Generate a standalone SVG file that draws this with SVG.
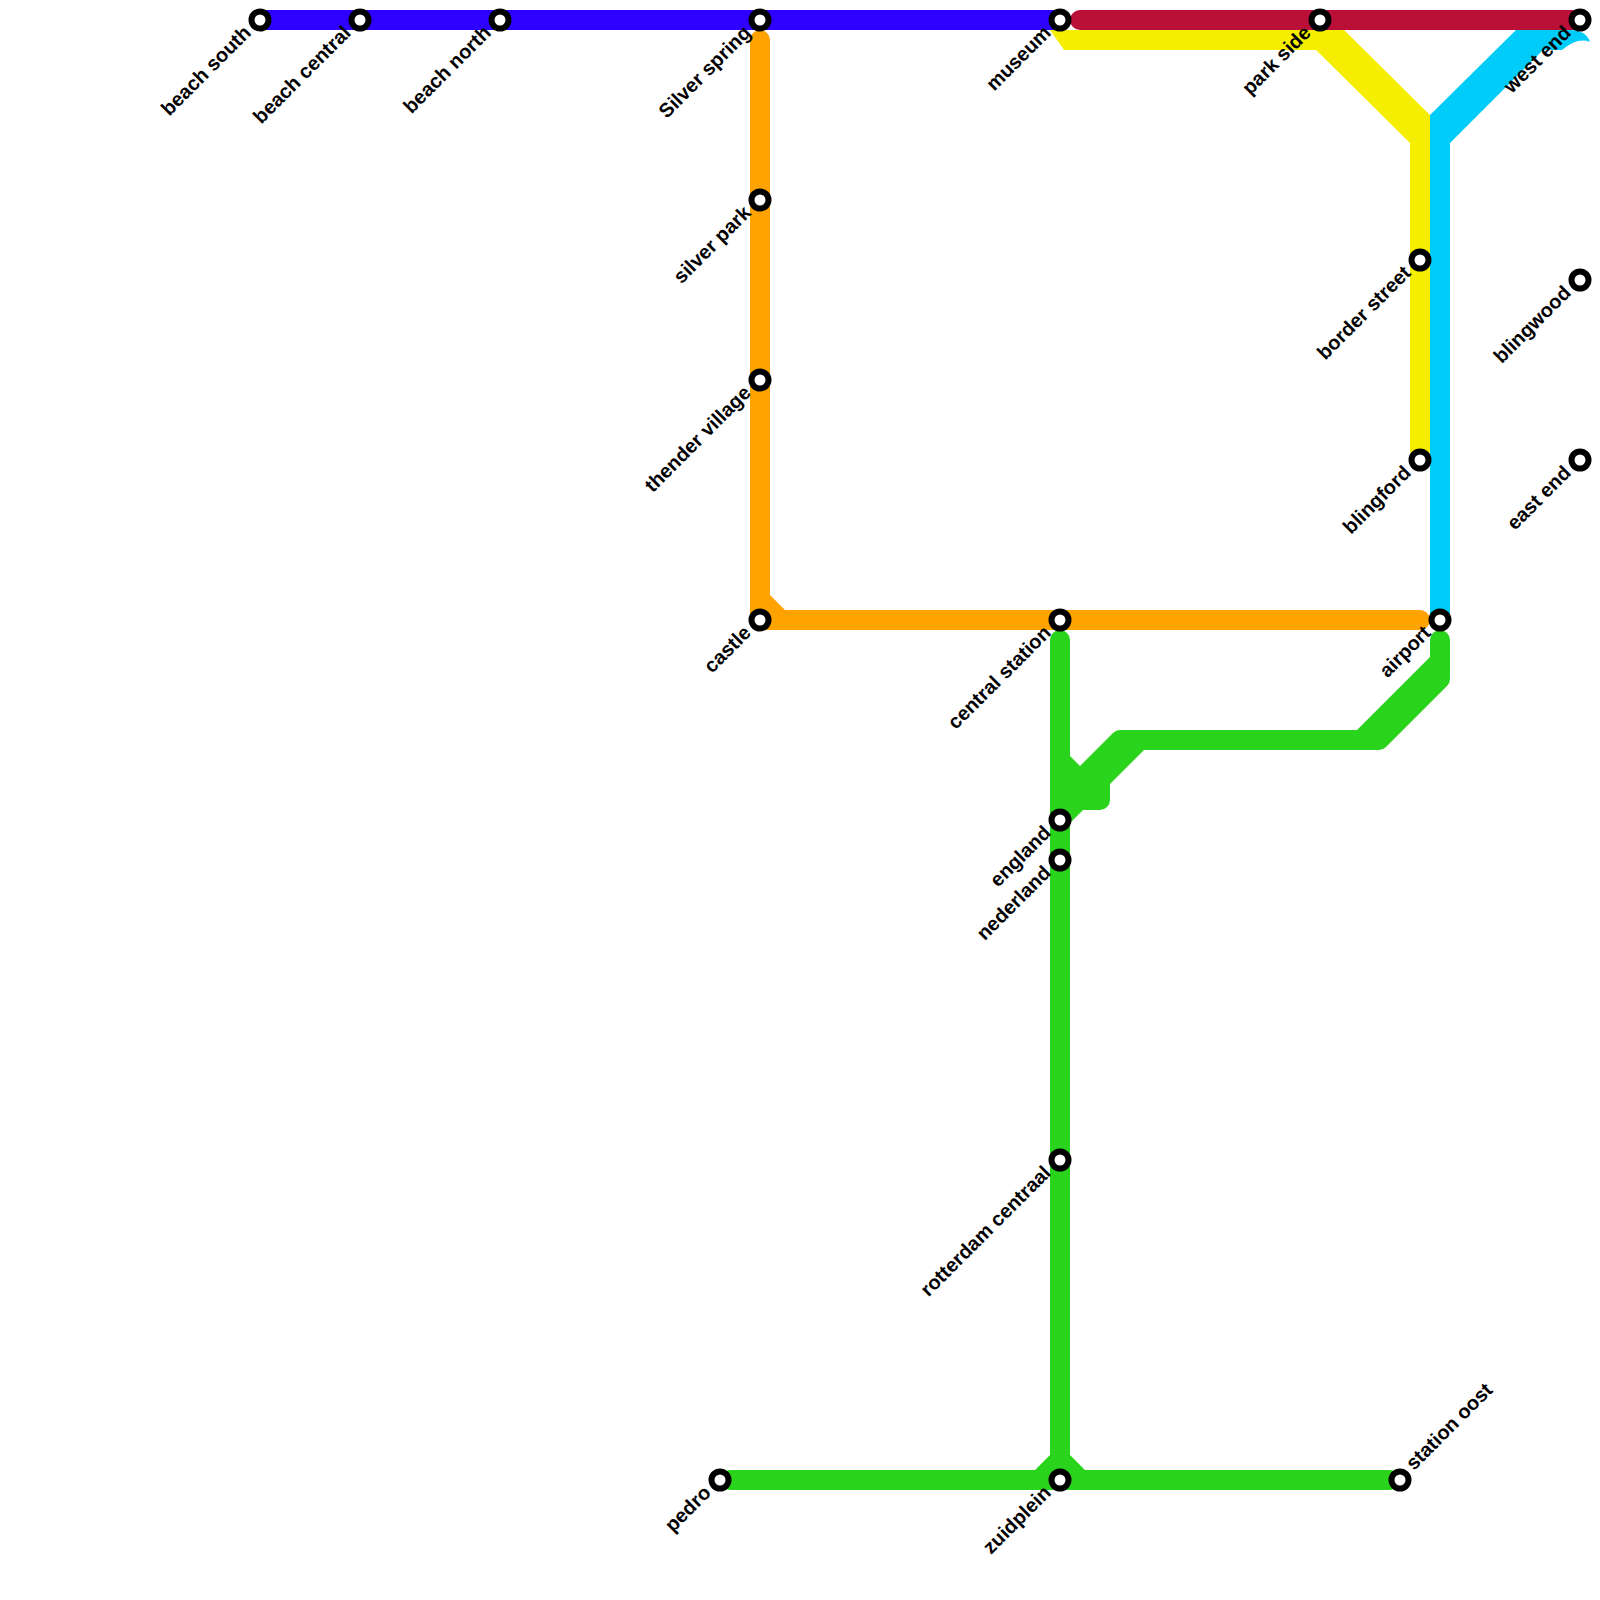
<svg xmlns="http://www.w3.org/2000/svg" width="1600" height="1600" viewBox="0 0 1600 1600">
<style>
.l{fill:none;stroke-width:20;stroke-linecap:round;stroke-linejoin:round}
.s{fill:#fff;stroke:#000;stroke-width:6}
text{font-family:"Liberation Sans",Arial,sans-serif;font-size:19.9px;font-weight:700;fill:#000;text-anchor:end}
text.st{text-anchor:start}
</style>
<rect width="1600" height="1600" fill="#fff"/>
<g id="connectors">
<path fill="#00ccf9" d="M1430,620V115L1516,30H1570Q1586,30 1590,42Q1578,37 1562,50H1543L1450,143V620Z"/>
<path fill="#f5ee00" d="M1050,30H1344L1430,115V450A10,10 0 0 1 1410,450V143L1316,50H1064Z"/>
<path class="l" stroke="#2d00ff" d="M260,20H1060"/>
<path class="l" stroke="#ba1038" d="M1080,20H1580"/>
<path class="l" stroke="#ffa300" d="M760,40V620H1420"/>
<path fill="#ffa300" d="M770,595L785,610H770Z"/>
<path fill="#2ad31c" d="M1050,640A10,10 0 0 1 1070,640V756L1080,766L1113,733Q1116,730 1120,730H1357L1430,657V640A10,10 0 0 1 1450,640V679Q1450,683 1447,686L1386,747Q1383,750 1379,750H1144L1110,784V800A10,10 0 0 1 1100,810H1083L1070,823V1455L1085,1470H1390A10,10 0 0 1 1390,1490H730A10,10 0 0 1 730,1470H1035L1050,1455V823H1050Z"/>
</g>
<g id="n-beach-south"><circle class="s" cx="260" cy="20" r="8.5"/><text transform="translate(252,34) rotate(-45)">beach south</text></g>
<g id="n-beach-central"><circle class="s" cx="360" cy="20" r="8.5"/><text transform="translate(352,34) rotate(-45)">beach central</text></g>
<g id="n-beach-north"><circle class="s" cx="500" cy="20" r="8.5"/><text transform="translate(492,34) rotate(-45)">beach north</text></g>
<g id="n-silver-spring"><circle class="s" cx="760" cy="20" r="8.5"/><text transform="translate(752,34) rotate(-45)">Silver spring</text></g>
<g id="n-museum"><circle class="s" cx="1060" cy="20" r="8.5"/><text transform="translate(1052,34) rotate(-45)">museum</text></g>
<g id="n-park-side"><circle class="s" cx="1320" cy="20" r="8.5"/><text transform="translate(1312,34) rotate(-45)">park side</text></g>
<g id="n-west-end"><circle class="s" cx="1580" cy="20" r="8.5"/><text transform="translate(1572,34) rotate(-45)">west end</text></g>
<g id="n-silver-park"><circle class="s" cx="760" cy="200" r="8.5"/><text transform="translate(752,214) rotate(-45)">silver park</text></g>
<g id="n-thender-village"><circle class="s" cx="760" cy="380" r="8.5"/><text transform="translate(752,394) rotate(-45)">thender village</text></g>
<g id="n-castle"><circle class="s" cx="760" cy="620" r="8.5"/><text transform="translate(752,634) rotate(-45)">castle</text></g>
<g id="n-central-station"><circle class="s" cx="1060" cy="620" r="8.5"/><text transform="translate(1052,634) rotate(-45)">central station</text></g>
<g id="n-airport"><circle class="s" cx="1440" cy="620" r="8.5"/><text transform="translate(1432,634) rotate(-45)">airport</text></g>
<g id="n-border-street"><circle class="s" cx="1420" cy="260" r="8.5"/><text transform="translate(1412,274) rotate(-45)">border street</text></g>
<g id="n-blingford"><circle class="s" cx="1420" cy="460" r="8.5"/><text transform="translate(1412,474) rotate(-45)">blingford</text></g>
<g id="n-blingwood"><circle class="s" cx="1580" cy="280" r="8.5"/><text transform="translate(1572,294) rotate(-45)">blingwood</text></g>
<g id="n-east-end"><circle class="s" cx="1580" cy="460" r="8.5"/><text transform="translate(1572,474) rotate(-45)">east end</text></g>
<g id="n-england"><circle class="s" cx="1060" cy="820" r="8.5"/><text transform="translate(1052,834) rotate(-45)">england</text></g>
<g id="n-nederland"><circle class="s" cx="1060" cy="860" r="8.5"/><text transform="translate(1052,874) rotate(-45)">nederland</text></g>
<g id="n-rotterdam-centraal"><circle class="s" cx="1060" cy="1160" r="8.5"/><text transform="translate(1052,1174) rotate(-45)">rotterdam centraal</text></g>
<g id="n-zuidplein"><circle class="s" cx="1060" cy="1480" r="8.5"/><text transform="translate(1052,1494) rotate(-45)">zuidplein</text></g>
<g id="n-pedro"><circle class="s" cx="720" cy="1480" r="8.5"/><text transform="translate(712,1494) rotate(-45)">pedro</text></g>
<g id="n-station-oost"><circle class="s" cx="1400" cy="1480" r="8.5"/><text class="st" transform="translate(1414,1471) rotate(-45)">station oost</text></g>
</svg>
